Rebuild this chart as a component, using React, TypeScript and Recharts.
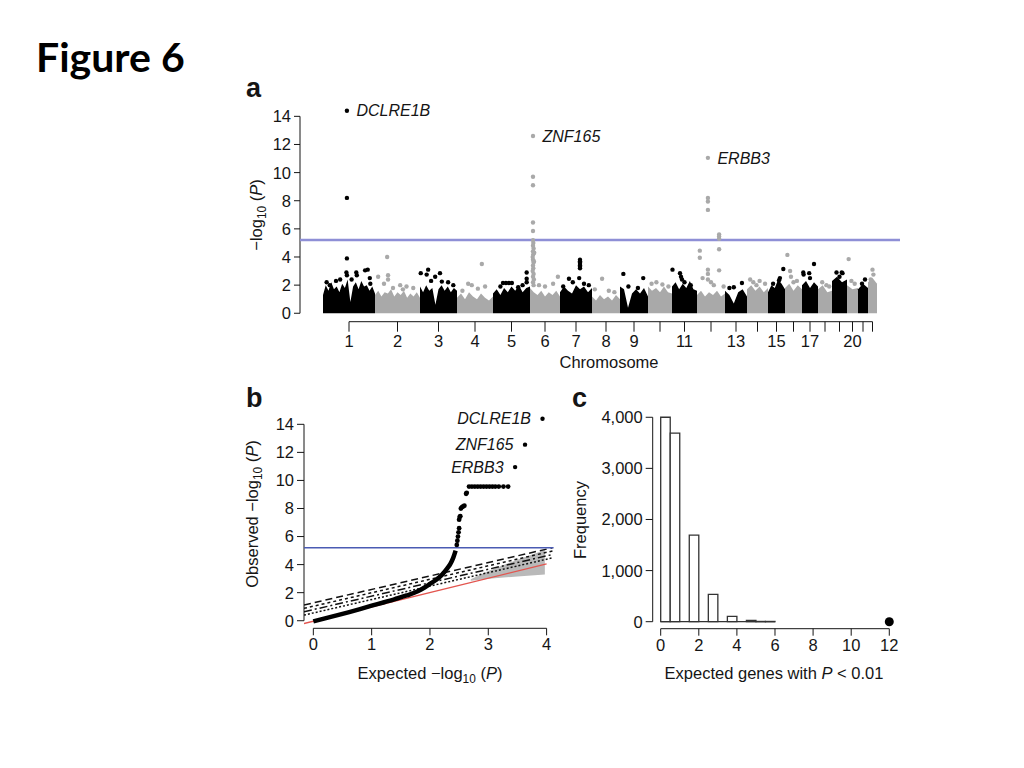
import React from "react";
import {
  ComposedChart,
  XAxis,
  YAxis,
  Area,
  Line,
  Scatter,
  LabelList,
  ReferenceLine,
  ReferenceArea,
} from "recharts";

const FONT = '"Liberation Sans", Arial, sans-serif';
const INK = "#151515";
const GRAY = "#a9a9a9";
const TICK_FS = 16.5;

// ---------- panel a: genome scan ----------
// relative width each chromosome takes on the x axis
const chromSpans = [52, 45, 37, 36, 37, 30, 32, 28, 28, 24, 25, 28, 22, 21, 17, 17, 16, 14, 15, 11, 10, 9];
const chromTickLabels = ["1", "2", "3", "4", "5", "6", "7", "8", "9", "", "11", "", "13", "", "15", "", "17", "", "", "20", "", ""];

// top of the dense cloud of gene p-values, read left to right inside each chromosome
const chromEnvelope = [
  [1.3, 2.0, 1.6, 2.2, 1.7, 1.9, 1.5, 2.1, 1.8, 2.4, 0.8, 1.9, 2.2, 1.7, 2.3, 1.9, 2.0, 1.6, 1.9, 1.4],
  [1.3, 1.6, 1.2, 1.5, 1.4, 1.7, 1.2, 1.5, 1.3, 1.6, 1.1, 1.4, 1.2, 1.5, 1.1],
  [1.9, 1.5, 2.0, 1.6, 1.8, 0.6, 1.7, 2.0, 1.6, 1.9, 1.5, 1.8, 1.6],
  [1.1, 1.4, 1.0, 1.5, 1.2, 1.0, 1.4, 1.1, 0.9, 1.2],
  [1.4, 1.7, 1.3, 1.8, 1.5, 1.9, 1.6, 2.0, 1.5, 1.8, 1.9],
  [1.8, 1.5, 1.3, 1.6, 1.2, 1.5, 1.3, 1.6, 1.2],
  [1.5, 1.9, 1.6, 1.4, 2.0, 1.7, 1.9, 1.5, 1.8],
  [1.2, 0.9, 1.3, 1.0, 1.2, 0.9, 1.3, 1.0],
  [1.9, 1.7, 0.4, 1.4, 1.7, 1.4, 1.8, 1.2],
  [1.9, 1.6, 1.8, 1.5, 1.9, 1.5, 1.4],
  [1.9, 2.2, 1.7, 2.1, 1.8, 2.3, 1.7, 1.6],
  [1.3, 1.6, 1.2, 1.5, 1.3, 1.6, 1.2, 1.4],
  [1.6, 1.3, 0.7, 1.5, 1.7, 1.2],
  [1.7, 2.0, 1.6, 1.9, 1.5, 1.8],
  [1.5, 2.0, 1.8, 2.4, 2.1, 1.7],
  [1.8, 2.1, 1.6, 2.0, 1.7],
  [2.0, 2.3, 1.8, 2.2, 1.9],
  [1.7, 2.0, 1.5, 1.6],
  [2.3, 2.6, 2.2, 2.4],
  [2.0, 1.7, 1.8],
  [1.7, 2.1, 1.8],
  [2.2, 2.5, 2.1],
];

// [chromosome, relative position in chromosome, -log10 P]
const chromOutliers: [number, number, number][] = [
  [1, 0.46, 8.2], [1, 0.46, 3.9], [1, 0.45, 2.9], [1, 0.46, 2.7], [1, 0.33, 2.4], [1, 0.07, 2.2],
  [1, 0.13, 2.0], [1, 0.65, 2.7], [1, 0.64, 2.9], [1, 0.86, 3.1], [1, 0.81, 3.05], [1, 0.9, 2.5],
  [1, 0.91, 2.1], [1, 0.25, 2.3], [1, 0.55, 2.4],
  [2, 0.27, 4.0], [2, 0.29, 2.7], [2, 0.29, 2.4], [2, 0.07, 2.6], [2, 0.56, 2.0], [2, 0.62, 1.7],
  [2, 0.4, 1.8], [2, 0.7, 1.9], [2, 0.2, 2.1], [2, 0.85, 1.8],
  [3, 0.22, 3.1], [3, 0.18, 2.75], [3, 0.02, 2.85], [3, 0.54, 2.85], [3, 0.41, 2.6], [3, 0.59, 2.25],
  [3, 0.76, 2.2], [3, 0.9, 2.0], [3, 0.3, 2.3],
  [4, 0.69, 3.5], [4, 0.31, 2.1], [4, 0.41, 2.0], [4, 0.58, 1.75], [4, 0.78, 1.9], [4, 0.15, 1.6],
  [5, 0.27, 2.15], [5, 0.35, 2.15], [5, 0.43, 2.15], [5, 0.51, 2.15], [5, 0.91, 2.9], [5, 0.91, 2.45],
  [5, 0.91, 2.2], [5, 0.68, 1.85], [5, 0.2, 1.9], [5, 0.8, 2.0],
  [6, 0.1, 9.7], [6, 0.1, 9.1], [6, 0.1, 6.45], [6, 0.1, 5.85], [6, 0.1, 5.2], [6, 0.11, 5.0],
  [6, 0.1, 4.8], [6, 0.12, 4.6], [6, 0.1, 4.4], [6, 0.11, 4.2], [6, 0.09, 4.0], [6, 0.1, 3.8],
  [6, 0.12, 3.6], [6, 0.1, 3.4], [6, 0.11, 3.2], [6, 0.09, 3.0], [6, 0.12, 2.8], [6, 0.1, 2.6],
  [6, 0.13, 2.4], [6, 0.1, 2.2], [6, 0.12, 2.0], [6, 0.14, 4.3], [6, 0.13, 3.7], [6, 0.93, 2.6],
  [6, 0.77, 2.1], [6, 0.5, 1.9], [6, 0.3, 2.0],
  [7, 0.625, 3.8], [7, 0.625, 3.7], [7, 0.625, 3.6], [7, 0.625, 3.5], [7, 0.625, 3.4], [7, 0.625, 3.3],
  [7, 0.625, 3.2], [7, 0.6, 2.5], [7, 0.28, 2.45], [7, 0.4, 2.2], [7, 0.75, 2.1], [7, 0.9, 2.0], [7, 0.1, 1.9],
  [8, 0.36, 2.45], [8, 0.1, 1.7], [8, 0.6, 1.6], [8, 0.8, 1.5],
  [9, 0.12, 2.8], [9, 0.83, 2.5], [9, 0.64, 1.8], [9, 0.3, 1.9],
  [10, 0.15, 2.1], [10, 0.35, 2.2], [10, 0.6, 2.05], [10, 0.85, 1.9],
  [11, 0.02, 3.1], [11, 0.32, 2.85], [11, 0.36, 2.6], [11, 0.4, 2.4], [11, 0.5, 2.2], [11, 0.75, 2.0],
  [12, 0.1, 4.45], [12, 0.1, 3.95], [12, 0.39, 8.2], [12, 0.39, 7.95], [12, 0.39, 7.35], [12, 0.39, 3.1],
  [12, 0.39, 2.8], [12, 0.39, 2.4], [12, 0.79, 5.6], [12, 0.79, 5.45], [12, 0.79, 5.3], [12, 0.79, 4.55],
  [12, 0.79, 3.05], [12, 0.5, 2.2], [12, 0.2, 2.5], [12, 0.6, 2.0], [12, 0.95, 1.9],
  [13, 0.77, 2.15], [13, 0.4, 1.85], [13, 0.2, 1.8],
  [14, 0.15, 2.4], [14, 0.3, 2.2], [14, 0.86, 2.1], [14, 0.6, 2.3], [14, 0.45, 2.0],
  [15, 0.9, 3.15], [15, 0.7, 2.5], [15, 0.65, 2.35], [15, 0.3, 2.1],
  [16, 0.14, 4.15], [16, 0.3, 3.0], [16, 0.35, 2.6], [16, 0.7, 2.3], [16, 0.5, 2.2],
  [17, 0.08, 2.9], [17, 0.1, 2.75], [17, 0.45, 2.85], [17, 0.75, 3.5], [17, 0.5, 2.5],
  [18, 0.3, 2.2], [18, 0.6, 2.0], [18, 0.8, 1.9],
  [19, 0.3, 2.9], [19, 0.65, 2.9], [19, 0.7, 2.85], [19, 0.5, 2.6],
  [20, 0.15, 3.85], [20, 0.4, 2.3], [20, 0.7, 2.1],
  [21, 0.7, 2.4], [21, 0.4, 2.1],
  [22, 0.5, 3.1], [22, 0.6, 2.75], [22, 0.3, 2.4],
];

const topGenes = ["DCLRE1B", "ZNF165", "ERBB3"];
const topGeneChrom = [1, 6, 12];
const topGeneRel = [0.46, 0.1, 0.39];
const topGeneP = [14.4, 12.6, 11.05];
const scanYTicks = [0, 2, 4, 6, 8, 10, 12, 14];
const significance = 5.2;

// ---------- panel b: QQ plot ----------
const qqCurveExp = [0, 0.2, 0.4, 0.6, 0.8, 1.0, 1.2, 1.4, 1.6, 1.8, 1.9, 2.0, 2.1, 2.2, 2.3, 2.35, 2.4, 2.44];
const qqCurveObs = [-0.05, 0.17, 0.38, 0.6, 0.83, 1.07, 1.3, 1.54, 1.8, 2.12, 2.35, 2.62, 2.9, 3.25, 3.75, 4.05, 4.5, 5.0];
const qqTailExp = [2.46, 2.47, 2.48, 2.49, 2.5, 2.5, 2.51, 2.52, 2.53, 2.55, 2.57, 2.59, 2.62, 2.63,
  2.67, 2.72, 2.77, 2.82, 2.87, 2.92, 2.97, 3.02, 3.07, 3.12, 3.18, 3.26, 3.34];
const qqTailObs = [5.4, 5.7, 6.0, 6.3, 6.6, 7.2, 7.4, 7.45, 8.0, 8.1, 8.15, 8.2, 9.05, 9.12,
  9.56, 9.56, 9.56, 9.56, 9.56, 9.56, 9.56, 9.56, 9.56, 9.56, 9.56, 9.56, 9.56];
const qqGeneExp = [3.93, 3.63, 3.46];
const qqGeneObs = [14.4, 12.55, 10.95];
const nullExp = [-0.16, 4.0];
const nullObs = [-0.2, 4.05];
const boundExp = [-0.16, 4.1];
const boundObs = [
  [1.12, 5.2],
  [0.88, 4.97],
  [0.64, 4.72],
  [0.4, 4.48],
];
const boundDash = ["7 4", "3 3", "8 3 2 3", "2 2"];
const shadeExp = [2.7, 3.0, 3.5, 3.97];
const shadeLow = [2.85, 3.0, 3.15, 3.3];
const shadeHigh = [2.95, 3.55, 4.35, 5.05];
const qqYTicks = [0, 2, 4, 6, 8, 10, 12, 14];
const qqXTicks = [0, 1, 2, 3, 4];

// ---------- panel c: permutation histogram ----------
const histEdges = [0, 0.5, 1, 1.5, 2, 2.5, 3, 3.5, 4, 4.5, 5, 5.5, 6];
const histCounts = [4000, 3690, 0, 1695, 0, 535, 0, 105, 0, 26, 5, 5];
const observedGenes = 12;
const histYTicks = [0, 1000, 2000, 3000, 4000];
const histXTicks = [0, 2, 4, 6, 8, 10, 12];

const chromStart = chromSpans.map((_, i) => chromSpans.slice(0, i).reduce((a, b) => a + b, 0));
const chromCenter = chromStart.map((s, i) => s + chromSpans[i] / 2);
const chromX = (c: number, rel: number) => chromStart[c - 1] + rel * chromSpans[c - 1];

const envelopeData = chromEnvelope.map((env, i) =>
  env.map((v, j) => ({ x: chromStart[i] + (chromSpans[i] * j) / (env.length - 1), y: v })),
);
const oddOutliers = chromOutliers
  .filter((o) => o[0] % 2 === 1)
  .map((o) => ({ x: chromX(o[0], o[1]), y: o[2] }));
const evenOutliers = chromOutliers
  .filter((o) => o[0] % 2 === 0)
  .map((o) => ({ x: chromX(o[0], o[1]), y: o[2] }));
const topGeneData = topGenes.map((g, i) => ({
  x: chromX(topGeneChrom[i], topGeneRel[i]),
  y: topGeneP[i],
  gene: g,
  odd: topGeneChrom[i] % 2 === 1,
}));

const qqCurve = qqCurveExp.map((x, i) => ({ x, y: qqCurveObs[i] }));
const qqTail = qqTailExp.map((x, i) => ({ x, y: qqTailObs[i] }));
const qqGenes = topGenes.map((g, i) => ({ x: qqGeneExp[i], y: qqGeneObs[i], gene: g }));
const nullLine = nullExp.map((x, i) => ({ x, y: nullObs[i] }));
const boundLines = boundObs.map((b) => boundExp.map((x, i) => ({ x, y: b[i] })));
const shade = shadeExp.map((x, i) => ({ x, range: [shadeLow[i], shadeHigh[i]] }));

const dot = (r: number, fill: string) => (p: any) => <circle cx={p.cx} cy={p.cy} r={r} fill={fill} />;

// tick text drawn by hand so the size sticks
const xTick = (fmt: (v: number) => string) => (p: any) => (
  <text x={p.x} y={p.y} dy={TICK_FS * 0.72} textAnchor="middle" fontSize={TICK_FS} fill={INK} fontFamily={FONT}>
    {fmt(p.payload.value)}
  </text>
);
const yTick = (fmt: (v: number) => string) => (p: any) => (
  <text x={p.x} y={p.y} dy={TICK_FS * 0.36} textAnchor="end" fontSize={TICK_FS} fill={INK} fontFamily={FONT}>
    {fmt(p.payload.value)}
  </text>
);
const plain = (v: number) => String(v);

const Title = ({ x, y, rotate, size = 16.5, children }: any) => (
  <div
    style={{
      position: "absolute",
      left: x,
      top: y,
      transform: `translate(-50%, -50%)${rotate ? " rotate(-90deg)" : ""}`,
      whiteSpace: "nowrap",
      fontSize: size,
      lineHeight: 1,
      color: INK,
    }}
  >
    {children}
  </div>
);

const Sub = ({ children }: any) => (
  <span style={{ fontSize: "0.72em", position: "relative", top: "0.35em" }}>{children}</span>
);

const Letter = ({ x, y, children }: any) => (
  <div style={{ position: "absolute", left: x, top: y, fontSize: 27, fontWeight: 700, lineHeight: "26px", color: INK }}>
    {children}
  </div>
);

export default function App() {
  return (
    <div
      style={{
        position: "absolute",
        left: 0,
        top: 0,
        width: 1024,
        height: 768,
        background: "#fff",
        fontFamily: FONT,
        overflow: "hidden",
      }}
    >
      <div
        style={{
          position: "absolute",
          left: 36,
          top: 37,
          fontFamily: "Lato, sans-serif",
          fontWeight: 700,
          fontSize: 41,
          lineHeight: "40px",
          color: "#000",
        }}
      >
        Figure 6
      </div>

      <Letter x={246} y={75}>a</Letter>
      <Letter x={246} y={385}>b</Letter>
      <Letter x={572} y={385}>c</Letter>

      {/* panel a */}
      <div style={{ position: "absolute", left: 200, top: 80 }}>
        <ComposedChart width={720} height={300} margin={{ top: 27.9, right: 20, bottom: 28.3, left: 60 }}>
          <XAxis
            type="number"
            dataKey="x"
            domain={[-23, 577]}
            allowDataOverflow
            ticks={chromCenter}
            interval={0}
            axisLine={false}
            tickLine={{ stroke: INK }}
            tickSize={10}
            tickMargin={3}
            tick={xTick((v) => chromTickLabels[chromCenter.indexOf(v)])}
            height={30}
          />
          <YAxis
            type="number"
            dataKey="y"
            domain={[-0.6, 14.6]}
            allowDataOverflow
            ticks={scanYTicks}
            interval={0}
            axisLine={false}
            tickLine={{ stroke: INK }}
            tickSize={6}
            tickMargin={3}
            tick={yTick(plain)}
            width={40}
          />
          <ReferenceLine
            segment={[
              { x: -23, y: 0 },
              { x: -23, y: 14 },
            ]}
            stroke={INK}
            ifOverflow="visible"
          />
          <ReferenceLine
            segment={[
              { x: chromCenter[0], y: -0.6 },
              { x: chromCenter[chromCenter.length - 1], y: -0.6 },
            ]}
            stroke={INK}
            ifOverflow="visible"
          />
          {envelopeData.map((d, i) => (
            <Area
              key={i}
              data={d}
              dataKey="y"
              type="linear"
              baseValue={0}
              stroke="none"
              fill={i % 2 === 0 ? "#000" : GRAY}
              fillOpacity={1}
              dot={false}
              activeDot={false}
              isAnimationActive={false}
            />
          ))}
          <ReferenceLine y={significance} stroke="#8e8fd6" strokeWidth={2.5} />
          <Scatter data={evenOutliers} shape={dot(2.2, GRAY)} isAnimationActive={false} />
          <Scatter data={oddOutliers} shape={dot(2.2, "#000")} isAnimationActive={false} />
          <Scatter
            data={topGeneData}
            shape={(p: any) => <circle cx={p.cx} cy={p.cy} r={2.2} fill={p.payload.odd ? "#000" : GRAY} />}
            isAnimationActive={false}
          >
            <LabelList dataKey="gene" position="right" offset={5} fill={INK} fontSize={16} fontStyle="italic" />
          </Scatter>
        </ComposedChart>
      </div>
      <Title x={256} y={215} rotate>
        −log<Sub>10</Sub> (<i>P</i>)
      </Title>
      <Title x={609} y={362}>Chromosome</Title>

      {/* panel b */}
      <div style={{ position: "absolute", left: 220, top: 380 }}>
        <ComposedChart width={360} height={300} margin={{ top: 35.9, right: 26.4, bottom: 21.7, left: 44 }}>
          <XAxis
            type="number"
            dataKey="x"
            domain={[-0.16, 4.12]}
            allowDataOverflow
            ticks={qqXTicks}
            interval={0}
            axisLine={false}
            tickLine={{ stroke: INK }}
            tickSize={7}
            tickMargin={3}
            tick={xTick(plain)}
            height={30}
          />
          <YAxis
            type="number"
            dataKey="y"
            domain={[-0.54, 14.6]}
            allowDataOverflow
            ticks={qqYTicks}
            interval={0}
            axisLine={false}
            tickLine={{ stroke: INK }}
            tickSize={7}
            tickMargin={3}
            tick={yTick(plain)}
            width={40}
          />
          <ReferenceLine
            segment={[
              { x: -0.16, y: 0 },
              { x: -0.16, y: 14 },
            ]}
            stroke={INK}
            ifOverflow="visible"
          />
          <ReferenceLine
            segment={[
              { x: 0, y: -0.54 },
              { x: 4, y: -0.54 },
            ]}
            stroke={INK}
            ifOverflow="visible"
          />
          <Area
            data={shade}
            dataKey="range"
            type="linear"
            stroke="none"
            fill="#b9b9b9"
            fillOpacity={1}
            dot={false}
            activeDot={false}
            isAnimationActive={false}
          />
          <Line
            data={nullLine}
            dataKey="y"
            type="linear"
            stroke="#e3554f"
            strokeWidth={1.3}
            dot={false}
            activeDot={false}
            isAnimationActive={false}
          />
          {boundLines.map((d, i) => (
            <Line
              key={i}
              data={d}
              dataKey="y"
              type="linear"
              stroke="#111"
              strokeWidth={1.5}
              strokeDasharray={boundDash[i]}
              dot={false}
              activeDot={false}
              isAnimationActive={false}
            />
          ))}
          <ReferenceLine y={significance} stroke="#4a5bb3" strokeWidth={1.3} />
          <Line
            data={qqCurve}
            dataKey="y"
            type="monotone"
            stroke="#000"
            strokeWidth={4.5}
            dot={false}
            activeDot={false}
            isAnimationActive={false}
          />
          <Scatter data={qqTail} shape={dot(2.4, "#000")} isAnimationActive={false} />
          <Scatter data={qqGenes} shape={dot(2.2, "#000")} isAnimationActive={false}>
            <LabelList dataKey="gene" position="left" offset={7} fill={INK} fontSize={16} fontStyle="italic" />
          </Scatter>
        </ComposedChart>
      </div>
      <Title x={252} y={514} rotate>
        Observed −log<Sub>10</Sub> (<i>P</i>)
      </Title>
      <Title x={430} y={673}>
        Expected −log<Sub>10</Sub> (<i>P</i>)
      </Title>

      {/* panel c */}
      <div style={{ position: "absolute", left: 580, top: 380 }}>
        <ComposedChart width={340} height={300} margin={{ top: 29.6, right: 25, bottom: 21.3, left: 22.7 }}>
          <XAxis
            type="number"
            dataKey="x"
            domain={[-0.42, 12.3]}
            allowDataOverflow
            ticks={histXTicks}
            interval={0}
            axisLine={false}
            tickLine={{ stroke: INK }}
            tickSize={7}
            tickMargin={3}
            tick={xTick(plain)}
            height={30}
          />
          <YAxis
            type="number"
            dataKey="y"
            domain={[-137, 4150]}
            allowDataOverflow
            ticks={histYTicks}
            interval={0}
            axisLine={false}
            tickLine={{ stroke: INK }}
            tickSize={7}
            tickMargin={3}
            tick={yTick((v) => v.toLocaleString("en-US"))}
            width={50}
          />
          <ReferenceLine
            segment={[
              { x: -0.42, y: 0 },
              { x: -0.42, y: 4000 },
            ]}
            stroke={INK}
            ifOverflow="visible"
          />
          <ReferenceLine
            segment={[
              { x: 0, y: -137 },
              { x: 12, y: -137 },
            ]}
            stroke={INK}
            ifOverflow="visible"
          />
          {histCounts.map((c, i) =>
            c > 0 ? (
              <ReferenceArea
                key={i}
                x1={histEdges[i]}
                x2={histEdges[i + 1]}
                y1={0}
                y2={c}
                fill="#fff"
                fillOpacity={1}
                stroke="#333"
                strokeWidth={1.3}
              />
            ) : null,
          )}
          <ReferenceLine
            segment={[
              { x: histEdges[0], y: 0 },
              { x: histEdges[histEdges.length - 1], y: 0 },
            ]}
            stroke="#333"
            strokeWidth={1.3}
          />
          <Scatter data={[{ x: observedGenes, y: 0 }]} shape={dot(4.5, "#000")} isAnimationActive={false} />
        </ComposedChart>
      </div>
      <Title x={580} y={520} rotate>
        Frequency
      </Title>
      <Title x={774} y={673}>
        Expected genes with <i>P</i> &lt; 0.01
      </Title>
    </div>
  );
}
